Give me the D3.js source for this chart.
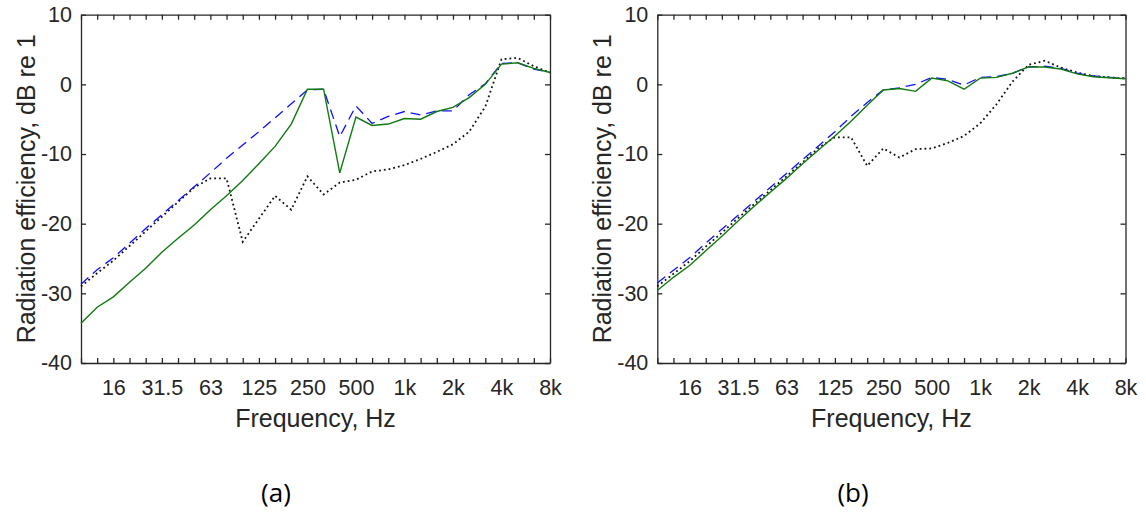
<html>
<head>
<meta charset="utf-8">
<title>Radiation efficiency</title>
<style>
    body { margin: 0; background: #fff; }
    .tick text { font-family: "Liberation Sans", Arial, sans-serif; font-size: 21.5px; fill: #262626; }
    .axis path, .axis line { stroke: #262626; stroke-width: 1.3; }
    .ttl { font-family: "Liberation Sans", Arial, sans-serif; font-size: 25px; fill: #262626; }
    .sub { font-family: "Open Sans", "Noto Sans", sans-serif; font-size: 26px; fill: #000; }
</style>
</head>
<body>
<script src="https://d3js.org/d3.v7.min.js"></script>
<script>
// 1/3 octave band centre frequencies, Hz
var bands = [10, 12.5, 16, 20, 25, 31.5, 40, 50, 63, 80, 100, 125, 160, 200, 250, 315,
             400, 500, 630, 800, 1000, 1250, 1600, 2000, 2500, 3150, 4000, 5000, 6300, 8000];
var tickLabels = {16: "16", 31.5: "31.5", 63: "63", 125: "125", 250: "250", 500: "500",
                  1000: "1k", 2000: "2k", 4000: "4k", 8000: "8k"};
var yTicks = [-40, -30, -20, -10, 0, 10];

// panel (a)
var solidA  = [-34.3, -32.0, -30.5, -28.4, -26.4, -24.1, -22.1, -20.2, -18.0, -16.0, -13.8, -11.4, -8.9, -5.7, -0.7,
               -0.7, -12.7, -4.7, -5.9, -5.7, -4.9, -5.0, -3.9, -3.3, -1.9, 0.0, 2.9, 3.1, 2.3, 1.7];
var dashedA = [-28.7, -26.6, -24.9, -22.8, -20.7, -18.7, -16.7, -14.7, -12.7, -10.6, -8.7, -6.8, -4.8, -2.8, -0.8,
               -0.7, -7.5, -3.1, -5.6, -4.6, -3.9, -4.4, -3.8, -3.8, -1.5, 0.1, 3.0, 3.1, 2.2, 1.7];
var dottedA = [-29.0, -27.1, -25.3, -23.2, -21.1, -19.0, -16.9, -14.8, -13.5, -13.5, -22.6, -19.3, -16.0, -18.0, -13.2,
               -15.8, -14.1, -13.7, -12.5, -12.2, -11.6, -10.7, -9.7, -8.6, -6.8, -3.2, 3.6, 3.8, 2.6, 1.7];

// panel (b)
var solidB  = [-29.6, -27.7, -26.0, -23.9, -21.8, -19.6, -17.5, -15.5, -13.5, -11.4, -9.4, -7.4, -5.3, -3.0, -0.8,
               -0.6, -1.0, 0.9, 0.5, -0.7, 0.9, 1.0, 1.6, 2.5, 2.5, 2.2, 1.5, 1.1, 0.95, 0.8];
var dashedB = [-28.5, -26.7, -24.9, -22.8, -20.8, -18.8, -16.8, -14.8, -12.8, -10.8, -8.8, -6.8, -4.6, -2.6, -0.8,
               -0.5, 0.0, 1.0, 0.7, -0.1, 1.0, 1.1, 1.6, 2.5, 2.6, 2.3, 1.6, 1.2, 1.0, 0.85];
var dottedB = [-29.0, -27.2, -25.4, -23.3, -21.3, -19.2, -17.2, -15.2, -13.2, -11.2, -9.1, -7.6, -7.6, -11.7, -9.2,
               -10.5, -9.3, -9.2, -8.4, -7.4, -5.6, -2.9, 0.4, 2.8, 3.4, 2.4, 1.7, 1.2, 1.0, 0.85];

var W = 1146, H = 516;
var plotTop = 14.7, plotBottom = 363;

var svg = d3.select("body").append("svg").attr("width", W).attr("height", H);
svg.append("rect").attr("width", W).attr("height", H).attr("fill", "#fff");

var panels = [
    {left: 81, right: 550, label: "(a)", labelX: 276, yTitleX: 35, data: [solidA, dashedA, dottedA]},
    {left: 657.3, right: 1125.5, label: "(b)", labelX: 853, yTitleX: 611, data: [solidB, dashedB, dottedB]}
];

var styles = [
    {color: "#0f7a0f", width: 1.4, dash: null},
    {color: "#1010ff", width: 1.3, dash: "10,6"},
    {color: "#111", width: 1.8, dash: "1.8,3"}
];

panels.forEach(function (p) {
    var x = d3.scalePoint().domain(bands).range([p.left, p.right]);
    var y = d3.scaleLinear().domain([-40, 10]).range([plotBottom, plotTop]);
    var g = svg.append("g");

    g.append("g").attr("class", "axis").attr("transform", "translate(0," + plotBottom + ")")
        .call(d3.axisBottom(x).tickSizeInner(-5).tickSizeOuter(0).tickPadding(17)
            .tickFormat(function (d) { return tickLabels[d] || ""; }));
    g.append("g").attr("class", "axis").attr("transform", "translate(0," + plotTop + ")")
        .call(d3.axisTop(x).tickSizeInner(-5).tickSizeOuter(0).tickFormat(""));
    g.append("g").attr("class", "axis").attr("transform", "translate(" + p.left + ",0)")
        .call(d3.axisLeft(y).tickValues(yTicks).tickSizeInner(-5).tickSizeOuter(0).tickPadding(9)
            .tickFormat(function (d) { return String(d); }));
    g.append("g").attr("class", "axis").attr("transform", "translate(" + p.right + ",0)")
        .call(d3.axisRight(y).tickValues(yTicks).tickSizeInner(-5).tickSizeOuter(0).tickFormat(""));

    var line = d3.line().x(function (d, i) { return x(bands[i]); }).y(function (d) { return y(d); });

    // dotted first, then dashed, then solid on top
    [2, 1, 0].forEach(function (k) {
        var s = styles[k];
        g.append("path").datum(p.data[k])
            .attr("d", line)
            .attr("fill", "none")
            .attr("stroke", s.color)
            .attr("stroke-width", s.width)
            .attr("stroke-dasharray", s.dash);
    });

    g.append("text").attr("class", "ttl")
        .attr("x", (p.left + p.right) / 2).attr("y", 427)
        .attr("text-anchor", "middle").text("Frequency, Hz");

    g.append("text").attr("class", "ttl")
        .attr("transform", "translate(" + p.yTitleX + "," + ((plotTop + plotBottom) / 2) + ") rotate(-90)")
        .attr("text-anchor", "middle").text("Radiation efficiency, dB re 1");

    g.append("text").attr("class", "sub")
        .attr("x", p.labelX).attr("y", 502)
        .attr("text-anchor", "middle").text(p.label);
});
</script>
</body>
</html>
